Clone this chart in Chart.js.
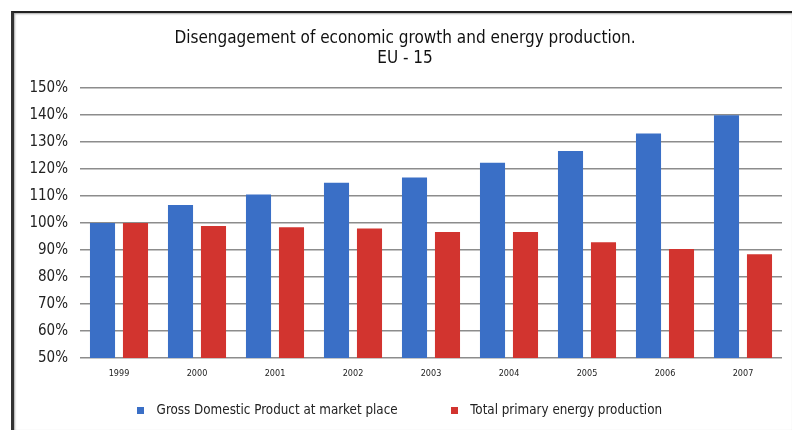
<!DOCTYPE html>
<html>
<head>
<meta charset="utf-8">
<script src="https://cdn.jsdelivr.net/npm/chart.js@4/dist/chart.umd.min.js"></script>
<style>
  html, body { margin: 0; padding: 0; background: #fff; }
  #wrap { position: relative; width: 792px; height: 430px; }
  #frame {
    position: absolute; left: 11px; top: 11px; right: 0; bottom: 0;
    border-top: 2px solid #222; border-left: 3px solid #333;
    box-shadow: inset 1px 1px 2px rgba(0,0,0,0.35);
    pointer-events: none;
  }
</style>
</head>
<body>
<div id="wrap">
  <canvas id="chBars" width="792" height="430"></canvas>
  <div id="frame"></div>
</div>
<script>
// years and indexed values (1999 = 100%)
var years = ['1999','2000','2001','2002','2003','2004','2005','2006','2007'];
var gdp = [100, 106.7, 110.6, 114.9, 116.9, 122.3, 126.7, 133.2, 139.9];
var energy = [100, 98.9, 98.4, 98.0, 96.7, 96.7, 92.9, 90.4, 88.4];

var seriesNames = ['Gross Domestic Product at market place', 'Total primary energy production'];
var colors = ['#3a6fc6', '#d2342f'];

var titleLines = ['Disengagement of economic growth and energy production.', 'EU - 15'];

var fontFamily = '"DejaVu Sans Condensed", "Liberation Sans", sans-serif';

// wide gap between the two legend items; the legend keeps the height
// it would have with the default padding and is nudged into place
var legendGap = 48;
var gapExtra = legendGap - 14;
var legendShift = { x: -8, y: 3 };

var legendSpacing = {
  id: 'legendSpacing',
  afterInit: function (chart) {
    var legend = chart.legend;
    var fit = legend.fit;
    var drawItems = legend._draw;
    legend.fit = function () {
      fit.apply(this, arguments);
      this.height -= gapExtra;
    };
    // runs inside the legend's own clip box
    legend._draw = function () {
      var ctx = this.ctx;
      ctx.save();
      ctx.translate(legendShift.x, legendShift.y - gapExtra);
      drawItems.apply(this, arguments);
      ctx.restore();
    };
  }
};

// small square legend marker
function legendMarker(color) {
  var c = document.createElement('canvas');
  c.width = 7;
  c.height = 7;
  var g = c.getContext('2d');
  g.fillStyle = color;
  g.fillRect(0, 0, 7, 7);
  return c;
}
var markers = colors.map(legendMarker);

var chBars = document.getElementById('chBars');
new Chart(chBars, {
  type: 'bar',
  plugins: [legendSpacing],
  data: {
    labels: years,
    datasets: [
      { label: seriesNames[0], data: gdp, backgroundColor: colors[0], borderWidth: 0 },
      { label: seriesNames[1], data: energy, backgroundColor: colors[1], borderWidth: 0 }
    ]
  },
  options: {
    responsive: false,
    animation: false,
    layout: { padding: { left: 28, right: 10, top: 0, bottom: 6 } },
    datasets: { bar: { categoryPercentage: 0.846, barPercentage: 0.76 } },
    plugins: {
      title: {
        display: true,
        text: titleLines,
        color: '#111',
        font: { family: fontFamily, size: 17, weight: 'normal', lineHeight: 1.15 },
        padding: { top: 29, bottom: 20 }
      },
      legend: {
        position: 'bottom',
        labels: {
          usePointStyle: true,
          boxHeight: 7,
          pointStyleWidth: 18,
          padding: legendGap,
          color: '#222',
          font: { family: fontFamily, size: 13.3 },
          generateLabels: function (chart) {
            var items = Chart.defaults.plugins.legend.labels.generateLabels(chart);
            items.forEach(function (it, i) { it.pointStyle = markers[i]; });
            return items;
          }
        }
      },
      tooltip: { enabled: false }
    },
    scales: {
      x: {
        afterFit: function (scale) { scale.height -= 2; },
        grid: { display: false, drawTicks: false },
        border: { display: false },
        ticks: { color: '#222', padding: 10, font: { family: fontFamily, size: 9 } }
      },
      y: {
        min: 50,
        max: 150,
        afterFit: function (scale) { scale.width = 52; },
        grid: { color: '#8c8c8c', lineWidth: 1.5, drawTicks: false },
        border: { display: false },
        ticks: {
          stepSize: 10,
          padding: 12,
          color: '#222',
          font: { family: fontFamily, size: 15 },
          callback: function (v) { return v + '%'; }
        }
      }
    }
  }
});
</script>
</body>
</html>
